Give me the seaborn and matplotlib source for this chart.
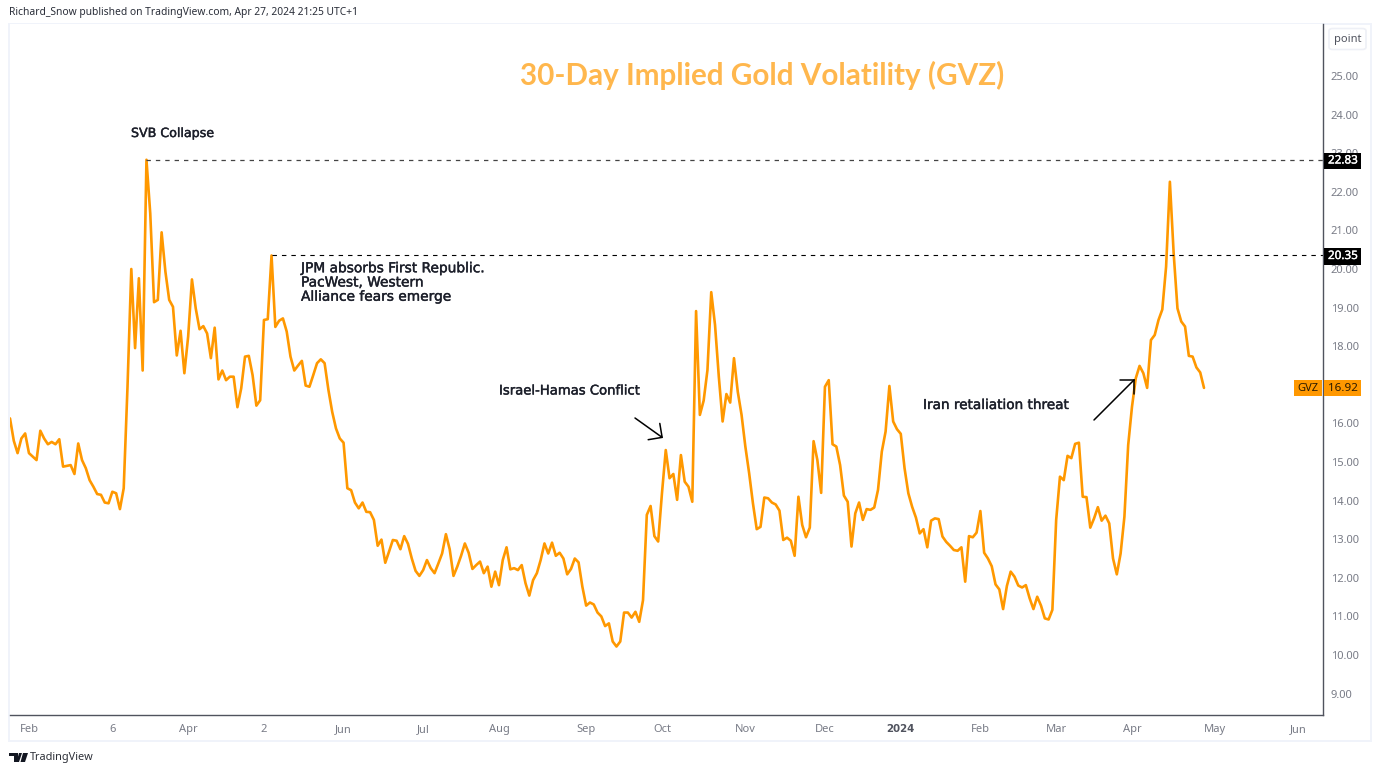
import seaborn as sns
from matplotlib import pyplot as plt
from matplotlib import patheffects
from matplotlib.patches import FancyBboxPatch, Polygon, Rectangle
import pandas as pd

# GVZ daily closes, one trading day per point
gvz_values = [
    16.13, 15.55, 15.23, 15.61, 15.74, 15.23, 15.14, 15.05, 15.81, 15.61,
    15.46, 15.52, 15.46, 15.59, 14.88, 14.90, 14.92, 14.69, 15.48, 15.05,
    14.84, 14.53, 14.36, 14.17, 14.15, 13.95, 13.93, 14.23, 14.19, 13.78,
    14.32, 16.95, 20.00, 17.95, 19.76, 17.37, 22.83, 21.44, 19.14, 19.20,
    20.95, 19.93, 19.20, 19.02, 17.76, 18.40, 17.30, 18.25, 19.73, 18.98,
    18.44, 18.52, 18.33, 17.69, 18.48, 17.14, 17.37, 17.12, 17.21, 17.21,
    16.42, 16.91, 17.73, 17.75, 17.25, 16.46, 16.60, 18.68, 18.70, 20.35,
    18.50, 18.66, 18.72, 18.38, 17.73, 17.37, 17.50, 17.62, 16.98, 16.95,
    17.25, 17.56, 17.66, 17.56, 16.87, 16.30, 15.87, 15.61, 15.50, 14.32,
    14.27, 13.95, 13.80, 13.95, 13.71, 13.70, 13.50, 12.83, 12.99, 12.39,
    12.68, 12.98, 12.96, 12.74, 13.08, 12.88, 12.50, 12.18, 12.05, 12.20,
    12.46, 12.25, 12.12, 12.37, 12.63, 13.13, 12.74, 12.05, 12.29, 12.57,
    12.89, 12.65, 12.23, 12.33, 12.42, 12.12, 12.29, 11.77, 12.16, 11.81,
    12.46, 12.79, 12.22, 12.25, 12.20, 12.33, 11.86, 11.54, 11.94, 12.12,
    12.46, 12.89, 12.63, 12.91, 12.57, 12.65, 12.50, 12.09, 12.23, 12.50,
    12.40, 11.77, 11.28, 11.36, 11.31, 11.10, 11.00, 10.75, 10.82, 10.35,
    10.22, 10.35, 11.10, 11.10, 10.97, 11.12, 10.86, 11.42, 13.63, 13.86,
    13.08, 12.94, 14.19, 15.31, 14.58, 14.69, 14.02, 15.18, 14.49, 14.36,
    13.97, 18.91, 16.22, 16.59, 17.38, 19.40, 18.55, 17.21, 16.05, 16.76,
    16.54, 17.69, 16.82, 16.22, 15.40, 14.71, 13.93, 13.26, 13.32, 14.08,
    14.06, 13.95, 13.90, 13.74, 12.98, 13.04, 12.96, 12.57, 14.10, 13.37,
    13.05, 13.30, 15.54, 15.05, 14.20, 16.95, 17.12, 15.46, 15.40, 14.92,
    14.13, 13.97, 12.81, 13.67, 13.95, 13.50, 13.78, 13.76, 13.82, 14.28,
    15.27, 15.79, 16.97, 16.05, 15.85, 15.73, 14.84, 14.19, 13.84, 13.56,
    13.15, 13.26, 12.79, 13.48, 13.54, 13.52, 13.07, 12.93, 12.83, 12.72,
    12.70, 12.79, 11.90, 13.08, 13.05, 13.17, 13.73, 12.65, 12.50, 12.30,
    11.83, 11.70, 11.19, 11.79, 12.16, 12.03, 11.80, 11.75, 11.81, 11.47,
    11.19, 11.51, 11.28, 10.95, 10.92, 11.17, 13.50, 14.62, 14.53, 15.16,
    15.10, 15.47, 15.50, 14.10, 14.09, 13.30, 13.54, 13.83, 13.48, 13.61,
    13.41, 12.50, 12.09, 12.63, 13.58, 15.44, 16.43, 17.17, 17.49, 17.30,
    16.92, 18.16, 18.29, 18.68, 18.95, 20.06, 22.26, 20.40, 18.98, 18.64,
    18.51, 17.75, 17.73, 17.45, 17.32, 16.92,
]

month_labels = ['Feb', '6', 'Apr', '2', 'Jun', 'Jul', 'Aug', 'Sep', 'Oct', 'Nov',
                'Dec', '2024', 'Feb', 'Mar', 'Apr', 'May', 'Jun']
month_index = [5, 27, 47, 67, 88, 109, 129, 152, 172, 194, 215, 235, 256, 276, 296, 318, 340]
# 17.00 is left out, the GVZ tag covers it in the original
price_ticks = [9, 10, 11, 12, 13, 14, 15, 16, 18, 19, 20, 21, 22, 23, 24, 25]

svb_high = 22.83
jpm_high = 20.35
last_close = 16.92

W, H = 1379, 773
ORANGE = '#ff9800'
GREY = '#787b86'
NOTE_INK = '#1c1f2a'

def fx(px):
    return px / W

def fy(py):
    return 1 - py / H

sns.set_theme(style='white')
plt.rcParams['font.family'] = ['DejaVu Sans']

df = pd.DataFrame({'day': range(len(gvz_values)), 'gvz': gvz_values})

fig = plt.figure(figsize=(W / 100, H / 100), dpi=100)
ax = fig.add_axes([fx(10), fy(715), fx(1323 - 10), (715 - 24) / H])

sns.lineplot(data=df, x='day', y='gvz', color=ORANGE, linewidth=1.9, ax=ax)

# the last point sits 1194 px from the left edge of the 1313 px wide pane
ax.set_xlim(0, (len(gvz_values) - 1) * 1313 / 1194)
ax.set_ylim(8.446, 26.347)
ax.set_xlabel('')
ax.set_ylabel('')

ax.yaxis.tick_right()
ax.set_yticks(price_ticks)
ax.set_yticklabels([f'{v:.2f}' for v in price_ticks], family='Noto Sans', fontsize=8, color=GREY)
ax.set_xticks(month_index)
ax.set_xticklabels(month_labels, family='Noto Sans', fontsize=8, color=GREY)
for lab in ax.get_xticklabels():
    if lab.get_text() == '2024':
        lab.set_family('DejaVu Sans')
        lab.set_fontsize(7.4)
        lab.set_fontweight('bold')
        lab.set_color('#50535e')
ax.tick_params(axis='y', length=0, pad=5.5)
ax.tick_params(axis='x', length=0, pad=6.5)

for side in ['top', 'left']:
    ax.spines[side].set_visible(False)
for side in ['right', 'bottom']:
    ax.spines[side].set_color('#50535e')
    ax.spines[side].set_linewidth(1)

# price lines from the two highs out to the scale
svb_day = gvz_values.index(svb_high)
jpm_day = gvz_values.index(jpm_high)
ax.hlines(svb_high, svb_day, ax.get_xlim()[1], color='#444444', linewidth=0.9, linestyles=(0, (3.5, 4)))
ax.hlines(jpm_high, jpm_day, ax.get_xlim()[1], color='black', linewidth=0.8, linestyles=(0, (4, 4.5)))

# outer frame of the TradingView snapshot
fig.add_artist(Rectangle((fx(9), fy(741)), fx(1371 - 9), (741 - 24) / H, fill=False,
                         edgecolor='#f0f3fa', linewidth=1.4, zorder=0))

# scale labels
def scale_tag(py, text, face, left=1323.5, right=1361):
    fig.add_artist(Rectangle((fx(left), fy(py + 8)), fx(right - left), 16 / H, facecolor=face,
                             edgecolor='none', zorder=5))
    label = fig.text(fx(1343), fy(py), text, family='Noto Sans', fontsize=8.4,
                     color='white' if face == 'black' else '#2a1a00', ha='center', va='center', zorder=6)
    if face == 'black':
        label.set_path_effects([patheffects.withStroke(linewidth=0.25, foreground='white')])

scale_tag(161, f'{svb_high:.2f}', 'black')
scale_tag(256.5, f'{jpm_high:.2f}', 'black')
scale_tag(388.5, f'{last_close:.2f}', ORANGE)
fig.add_artist(Rectangle((fx(1294), fy(396.5)), fx(28), 16 / H, facecolor=ORANGE, edgecolor='none', zorder=5))
fig.text(fx(1308), fy(388.5), 'GVZ', family='Noto Sans', fontsize=8, color='#2a1a00', ha='center', va='center', zorder=6)

# unit button
fig.add_artist(FancyBboxPatch((fx(1329), fy(49.5)), fx(37), 21 / H, boxstyle='round,pad=0,rounding_size=0.003',
                              facecolor='white', edgecolor='#eef0f6', linewidth=1.2, zorder=5))
fig.text(fx(1347.5), fy(39.5), 'point', family='Noto Sans', fontsize=8, color='#50535e', ha='center', va='center', zorder=6)

# header, title and notes
fig.text(fx(9), fy(13), 'Richard_Snow published on TradingView.com, Apr 27, 2024 21:25 UTC+1',
         family='Noto Sans', fontsize=7.4, color='#2a2e39', ha='left', va='center')
fig.text(fx(762), fy(75), '30-Day Implied Gold Volatility (GVZ)', family='Lato', fontsize=21.3, fontweight='bold',
         color='#ffb74d', ha='center', va='center')

heavier = [patheffects.withStroke(linewidth=0.3, foreground=NOTE_INK)]
fig.text(fx(131), fy(133.5), 'SVB Collapse', fontsize=9.1, color=NOTE_INK, ha='left', va='center', path_effects=heavier)
fig.text(fx(301), fy(282.5), 'JPM absorbs First Republic.\nPacWest, Western\nAlliance fears emerge',
         fontsize=9.9, color=NOTE_INK, ha='left', va='center', linespacing=1.02, path_effects=heavier)
fig.text(fx(499), fy(391), 'Israel-Hamas Conflict', fontsize=9.5, color=NOTE_INK, ha='left', va='center', path_effects=heavier)
fig.text(fx(923), fy(405), 'Iran retaliation threat', fontsize=9.8, color=NOTE_INK, ha='left', va='center', path_effects=heavier)

arrow = dict(arrowstyle='->,head_length=0.6,head_width=0.6', color='black', linewidth=1.1, shrinkA=0, shrinkB=0)
ax.annotate('', xy=(fx(663), fy(438)), xytext=(fx(635), fy(418)), xycoords='figure fraction',
            textcoords='figure fraction', arrowprops=arrow)
ax.annotate('', xy=(fx(1135), fy(379)), xytext=(fx(1094), fy(420)), xycoords='figure fraction',
            textcoords='figure fraction', arrowprops=arrow)

# footer logo and wordmark
logo = [
    [(9, 753), (18, 753), (18, 762), (14, 762), (14, 756), (9, 756)],
    [(19, 753), (22, 753), (19, 762), (16.5, 762)],
    [(23, 753), (28, 753), (25, 762), (20.5, 762)],
]
for shape in logo:
    fig.add_artist(Polygon([(fx(a), fy(b)) for a, b in shape], closed=True, facecolor='#131722', edgecolor='none'))
fig.text(fx(30), fy(757.5), 'TradingView', family='Noto Sans', fontsize=7.9, color='#2e3139', ha='left', va='center')

plt.savefig('out.png', dpi=100)
